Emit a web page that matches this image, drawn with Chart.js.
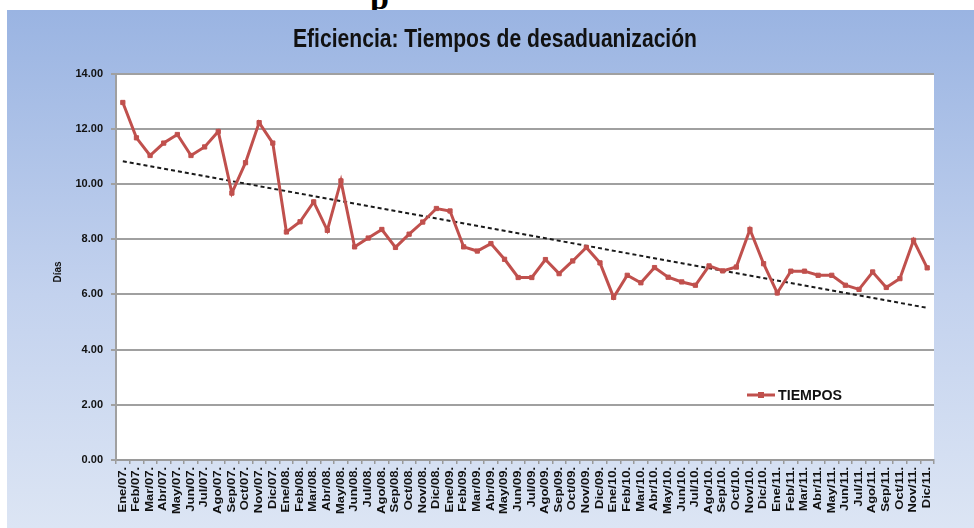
<!DOCTYPE html>
<html>
<head>
<meta charset="utf-8">
<script src="https://cdn.jsdelivr.net/npm/chart.js@4"></script>
<style>
  html, body { margin: 0; padding: 0; background: #fff; }
  body { width: 974px; height: 528px; position: relative; overflow: hidden; }
  #cut { position: absolute; left: 370px; top: -21px; font: bold 34px "Liberation Serif", serif; color: #000; }
  #box {
    position: absolute; left: 7px; top: 10px; width: 967px; height: 518px;
    background: linear-gradient(to bottom, #9ab4e2 0%, #c3d2ee 55%, #dce5f4 100%);
  }
</style>
</head>
<body>
<div id="cut">p</div>
<div id="box"><canvas id="chart"></canvas></div>
<script>
// Data
const months = ['Ene', 'Feb', 'Mar', 'Abr', 'May', 'Jun', 'Jul', 'Ago', 'Sep', 'Oct', 'Nov', 'Dic'];
const years = ['07', '08', '09', '10', '11'];
const labels = [];
years.forEach(y => months.forEach(m => labels.push(m + '/' + y + '.')));

const tiempos = [
    12.95, 11.67, 11.03, 11.48, 11.79, 11.03, 11.34, 11.90, 9.67, 10.77, 12.22, 11.48,
    8.26, 8.63, 9.35, 8.32, 10.11, 7.72, 8.04, 8.35, 7.70, 8.18, 8.62, 9.11,
    9.02, 7.72, 7.57, 7.84, 7.27, 6.61, 6.61, 7.26, 6.75, 7.21, 7.70, 7.14,
    5.89, 6.69, 6.42, 6.97, 6.62, 6.45, 6.33, 7.03, 6.85, 6.99, 8.35, 7.11,
    6.05, 6.84, 6.84, 6.69, 6.69, 6.33, 6.18, 6.81, 6.25, 6.57, 7.96, 6.96
];

// trend line end values (Excel linear trendline)
const trendStart = 10.82;
const trendEnd = 5.51;
const tendencia = tiempos.map((v, i) => i === 0 ? trendStart : (i === tiempos.length - 1 ? trendEnd : null));

const yTicks = [0, 2, 4, 6, 8, 10, 12, 14];

const red = '#c0504d';
const font = '"Liberation Sans", Arial, sans-serif';

// draw text squeezed/stretched to a given width
function fitText(ctx, text, width) {
    const w = ctx.measureText(text).width;
    ctx.scale(width / w, 1);
    ctx.fillText(text, 0, 0);
}

// white plot area, title, axis title, month labels and legend drawn by hand
const extras = {
    id: 'extras',
    beforeDraw(chart) {
        const a = chart.chartArea;
        chart.ctx.save();
        chart.ctx.fillStyle = '#fff';
        chart.ctx.fillRect(a.left, a.top, a.right - a.left, a.bottom - a.top);
        chart.ctx.restore();
    },
    afterDraw(chart) {
        const ctx = chart.ctx;
        ctx.save();
        ctx.fillStyle = '#111';
        ctx.textBaseline = 'middle';
        ctx.textAlign = 'left';

        // title
        ctx.save();
        ctx.font = 'bold 26px ' + font;
        ctx.translate(286, 30);
        fitText(ctx, 'Eficiencia: Tiempos de desaduanización', 404);
        ctx.restore();

        // Días
        ctx.save();
        ctx.font = 'bold 10px ' + font;
        ctx.translate(51, 262);
        ctx.rotate(-Math.PI / 2);
        ctx.textAlign = 'center';
        ctx.fillText('Días', 0, 0);
        ctx.restore();

        // month labels, read bottom to top
        const xs = chart.scales.x;
        ctx.font = 'bold 10px ' + font;
        labels.forEach((lab, i) => {
            ctx.save();
            ctx.translate(xs.getPixelForValue(i), xs.top + 7);
            ctx.rotate(-Math.PI / 2);
            ctx.textAlign = 'right';
            const w = ctx.measureText(lab).width;
            ctx.scale(1.3, 1);
            ctx.fillText(lab, 0, 0);
            ctx.restore();
        });

        // legend
        ctx.strokeStyle = red;
        ctx.lineWidth = 3;
        ctx.beginPath();
        ctx.moveTo(740, 385);
        ctx.lineTo(768, 385);
        ctx.stroke();
        ctx.fillStyle = red;
        ctx.fillRect(751, 382, 6, 6);
        ctx.fillStyle = '#111';
        ctx.font = 'bold 14px ' + font;
        ctx.translate(771, 386);
        fitText(ctx, 'TIEMPOS', 64);
        ctx.restore();
    }
};

const ctx = document.getElementById('chart').getContext('2d');
const chart = new Chart(ctx, {
    type: 'line',
    data: {
        labels: labels,
        datasets: [{
            label: 'TIEMPOS',
            data: tiempos,
            borderColor: red,
            backgroundColor: red,
            borderWidth: 3,
            pointStyle: 'rect',
            pointRadius: 3,
            pointBorderWidth: 1,
            tension: 0
        }, {
            label: 'Tendencia',
            data: tendencia,
            borderColor: '#1a1a1a',
            borderWidth: 2,
            borderDash: [4, 3],
            pointRadius: 0,
            spanGaps: true
        }]
    },
    plugins: [extras],
    options: {
        responsive: true,
        maintainAspectRatio: false,
        animation: false,
        layout: { padding: { top: 63.5, right: 40, left: 0, bottom: 0 } },
        plugins: {
            legend: { display: false },
            title: { display: false },
            tooltip: { enabled: false }
        },
        scales: {
            x: {
                offset: true,
                afterFit(scale) { scale.height = 68; },
                grid: { offset: true, drawOnChartArea: false, drawTicks: true, tickLength: 4, color: '#9a9a9a', lineWidth: 1.5 },
                border: { color: '#9a9a9a', width: 2 },
                ticks: { display: false, autoSkip: false }
            },
            y: {
                min: 0,
                max: 14,
                afterFit(scale) { scale.width = 109; },
                afterBuildTicks(scale) { scale.ticks = yTicks.map(v => ({ value: v })); },
                grid: { color: '#a0a0a0', lineWidth: 2, tickLength: 5 },
                border: { color: '#a0a0a0', width: 2 },
                ticks: {
                    padding: 8,
                    color: '#111',
                    font: { family: font, size: 11, weight: 'bold' },
                    callback: v => v.toFixed(2)
                }
            }
        }
    }
});
</script>
</body>
</html>
